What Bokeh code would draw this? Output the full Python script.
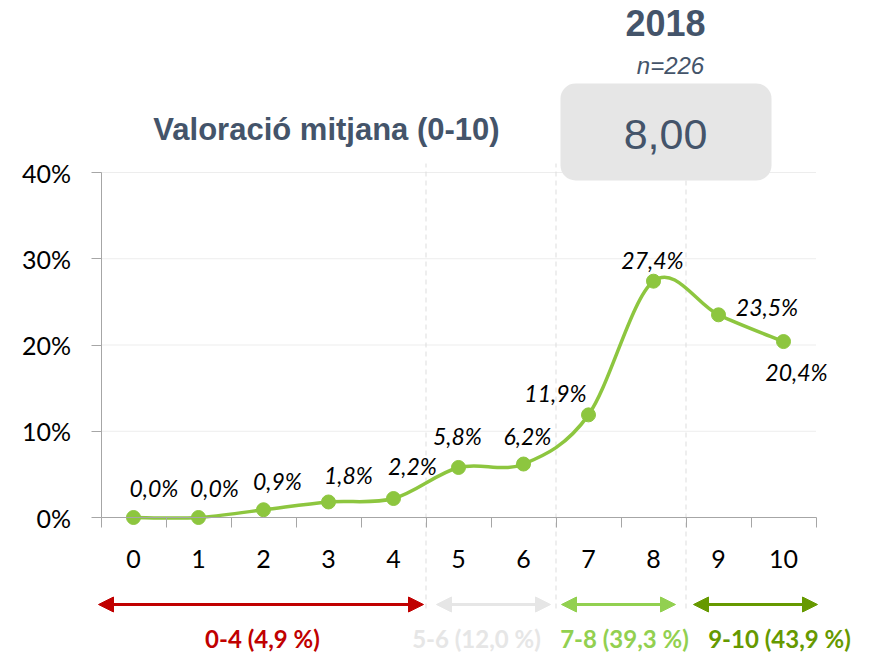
import numpy as np
from bokeh.plotting import figure
from bokeh.models import (Range1d, LinearAxis, FixedTicker, BoxAnnotation,
                          Arrow, NormalHead, Label, ColumnDataSource)
from bokeh.core.properties import value
from bokeh.embed import file_html
from bokeh.resources import INLINE

# ---------------- data ----------------
categories = [0, 1, 2, 3, 4, 5, 6, 7, 8, 9, 10]
percentages = [0.0, 0.0, 0.9, 1.8, 2.2, 5.8, 6.2, 11.9, 27.4, 23.5, 20.4]
value_labels = ["0,0%", "0,0%", "0,9%", "1,8%", "2,2%", "5,8%", "6,2%",
                "11,9%", "27,4%", "23,5%", "20,4%"]
y_ticks = [0, 10, 20, 30, 40]
y_tick_labels = ["0%", "10%", "20%", "30%", "40%"]
group_starts = [0, 5, 7, 9]
group_labels = ["0-4 (4,9 %)", "5-6 (12,0 %)", "7-8 (39,3 %)", "9-10 (43,9 %)"]
group_colors = ["#C00000", "#E6E6E6", "#92D050", "#669900"]
title_text = "Valoració mitjana (0-10)"
year_text = "2018"
n_text = "n=226"
mean_text = "8,00"

# ---------------- layout helpers (screen px -> data) ----------------
W, H = 870, 652
X0, DX = 133.0, 65.0        # px of category 0, px per category
Y0, DY = 517.0, 8.625       # px of 0%, px per 1%


def xd(px):
    return (np.asarray(px, dtype=float) - X0) / DX


def yd(py):
    return (Y0 - np.asarray(py, dtype=float)) / DY


GREEN = "#8DC63F"
SLATE = "#44546A"
AXIS_GRAY = "#A6A6A6"

p = figure(width=W, height=H, x_range=Range1d(float(xd(0)), float(xd(W))),
           y_range=Range1d(float(yd(H)), float(yd(0))),
           x_axis_type=None, y_axis_type=None, toolbar_location=None,
           output_backend="svg", min_border=0, outline_line_color=None,
           background_fill_color="white", border_fill_color="white")
p.xgrid.visible = False
p.ygrid.visible = False

# horizontal grid lines
gy = y_ticks[1:]
p.segment(x0=[-0.5] * len(gy), x1=[10.5] * len(gy), y0=gy, y1=gy,
          line_color="#EDEDED", line_width=1)

# dashed separators between groups
bounds = [s - 0.5 for s in group_starts[1:]]
p.segment(x0=bounds, x1=bounds, y0=[float(yd(608))] * len(bounds),
          y1=[float(yd(163))] * len(bounds), line_color="#DDDDDD",
          line_width=1, line_dash="5 4")

# axes
yaxis = LinearAxis(fixed_location=-0.5, bounds=(0, 40),
                   ticker=FixedTicker(ticks=y_ticks),
                   major_label_overrides=dict(zip(y_ticks, y_tick_labels)),
                   major_tick_out=10, major_tick_in=0,
                   minor_tick_out=0, minor_tick_in=0,
                   axis_line_color=AXIS_GRAY, major_tick_line_color=AXIS_GRAY,
                   major_label_standoff=20,
                   major_label_text_font="Lato",
                   major_label_text_font_size="25px",
                   major_label_text_color="#000000")
p.add_layout(yaxis, "left")

xaxis = LinearAxis(fixed_location=0, bounds=(-0.5, 10.5),
                   ticker=FixedTicker(ticks=categories,
                                      minor_ticks=[c - 0.5 for c in categories] + [10.5]),
                   major_tick_out=0, major_tick_in=0,
                   major_tick_line_color=None,
                   minor_tick_out=10, minor_tick_in=0,
                   minor_tick_line_color=AXIS_GRAY,
                   axis_line_color=AXIS_GRAY,
                   major_label_standoff=22,
                   major_label_text_font="Lato",
                   major_label_text_font_size="25px",
                   major_label_text_color="#000000")
p.add_layout(xaxis, "below")

# smoothed line (Bezier segments built from the data points)
x = np.array(categories, dtype=float)
y = np.array(percentages, dtype=float)
xp = np.concatenate([[x[0]], x, [x[-1]]])
yp = np.concatenate([[y[0]], y, [y[-1]]])
n = len(x)
i = np.arange(n - 1)
cx0 = x[i] + (xp[i + 2] - xp[i]) / 6.0
cy0 = y[i] + (yp[i + 2] - yp[i]) / 6.0
cx1 = x[i + 1] - (xp[i + 3] - xp[i + 1]) / 6.0
cy1 = y[i + 1] - (yp[i + 3] - yp[i + 1]) / 6.0
p.bezier(x0=x[:-1], y0=y[:-1], x1=x[1:], y1=y[1:], cx0=cx0, cy0=cy0,
         cx1=cx1, cy1=cy1, line_color=GREEN, line_width=3.5, line_cap="round")

p.scatter(categories, percentages, size=14, marker="circle",
          fill_color=GREEN, line_color=GREEN)

# data labels (offsets of the label centre from its point, in px)
label_dx = [20.5, 16, 14, 20, 19, -1, 4, -33, -1, 48.5, 13]
label_dy = [-30, -30, -29, -26.5, -32.5, -31.5, -28.5, -22, -21, -8, 30.5]
src = ColumnDataSource(dict(x=categories, y=percentages, t=value_labels,
                            dx=label_dx, dy=label_dy))
p.text(x="x", y="y", text="t", x_offset="dx", y_offset="dy", source=src,
       text_font=value("Lato"), text_font_style="italic",
       text_font_size="23px", text_color="#000000",
       text_align="center", text_baseline="middle")

# group arrows and labels
arrow_px = [(98, 423), (436, 550), (561, 675), (693, 817)]
arrow_y = float(yd(604))
for (a, b), c in zip(arrow_px, group_colors):
    p.add_layout(Arrow(x_start=float(xd(a)), y_start=arrow_y,
                       x_end=float(xd(b)), y_end=arrow_y,
                       line_color=c, line_width=3,
                       start=NormalHead(size=15, fill_color=c, line_color=c),
                       end=NormalHead(size=15, fill_color=c, line_color=c)))

group_label_px = [262, 476, 624, 779]
gsrc = ColumnDataSource(dict(x=xd(group_label_px).tolist(),
                             y=[float(yd(638))] * 4, t=group_labels,
                             c=group_colors))
p.text(x="x", y="y", text="t", text_color="c", source=gsrc,
       text_font=value("Lato"), text_font_style="bold",
       text_font_size="24px", text_align="center",
       text_baseline="middle")

# header: title, year, n, mean box
p.add_layout(BoxAnnotation(left=float(xd(560)), right=float(xd(771)),
                           top=float(yd(83)), bottom=float(yd(180)),
                           fill_color="#E6E6E6", fill_alpha=1.0,
                           line_color=None, border_radius=15))

p.add_layout(Label(x=float(xd(326)), y=float(yd(129)), text=title_text,
                   text_font="Liberation Sans", text_font_style="bold",
                   text_font_size="31px", text_color=SLATE,
                   text_align="center", text_baseline="middle"))
p.add_layout(Label(x=float(xd(665)), y=float(yd(22)), text=year_text,
                   text_font="Liberation Sans", text_font_style="bold",
                   text_font_size="36px", text_color=SLATE,
                   text_align="center", text_baseline="middle"))
p.add_layout(Label(x=float(xd(670)), y=float(yd(65)), text=n_text,
                   text_font="Liberation Sans", text_font_style="italic",
                   text_font_size="24px", text_color=SLATE,
                   text_align="center", text_baseline="middle"))
p.add_layout(Label(x=float(xd(665)), y=float(yd(134)), text=mean_text,
                   text_font="Liberation Sans", text_font_style="normal",
                   text_font_size="43px", text_color=SLATE,
                   text_align="center", text_baseline="middle"))

open("out.html", "w").write(file_html(p, INLINE))
